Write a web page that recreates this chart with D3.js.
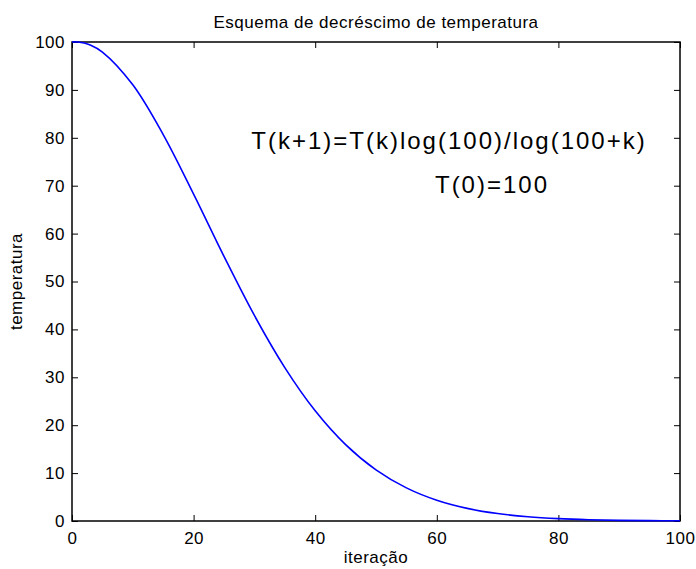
<!DOCTYPE html>
<html>
<head>
<meta charset="utf-8">
<title>Esquema de decréscimo de temperatura</title>
<script src="https://cdn.jsdelivr.net/npm/d3@7"></script>
<style>
  body { margin: 0; background: #fff; }
  text { font-family: "Liberation Sans", Arial, sans-serif; fill: #000; }
</style>
</head>
<body>
<script>
// iteração (k) e temperatura
var iteracoes = [0, 1, 2, 3, 5, 10, 15, 20, 25, 30, 35, 40, 45, 50, 55, 60, 65, 70, 75, 80, 85, 90, 95, 100];
var temperaturas = [100, 100, 99.78, 99.36, 97.91, 91.06, 80.66, 68.23, 55.24, 42.91, 32.03, 23.01, 15.95, 10.67, 6.91, 4.33, 2.63, 1.55, 0.89, 0.50, 0.27, 0.14, 0.07, 0.04];
var xTicks = [0, 20, 40, 60, 80, 100];
var yTicks = [0, 10, 20, 30, 40, 50, 60, 70, 80, 90, 100];

var width = 696, height = 569;
var margin = { top: 42, right: 16, bottom: 48, left: 72 };
var w = width - margin.left - margin.right;
var h = height - margin.top - margin.bottom;
var fs = '17px';

var svg = d3.select('body').append('svg')
    .attr('width', width)
    .attr('height', height);

var g = svg.append('g')
    .attr('transform', 'translate(' + margin.left + ',' + margin.top + ')');

var x = d3.scaleLinear().domain([0, 100]).range([0, w]);
var y = d3.scaleLinear().domain([0, 100]).range([h, 0]);

// eixos com marcas para dentro (estilo MATLAB)
function styleAxis(sel) {
    sel.select('.domain').remove();
    sel.selectAll('line').attr('stroke', '#000');
    sel.selectAll('text').attr('font-size', fs).attr('letter-spacing', '0.5px');
}

g.append('g')
    .attr('transform', 'translate(0,' + h + ')')
    .call(d3.axisBottom(x).tickValues(xTicks).tickSize(-6).tickPadding(11))
    .call(styleAxis);
g.append('g')
    .call(d3.axisTop(x).tickValues(xTicks).tickSize(-6).tickFormat(''))
    .call(styleAxis);
g.append('g')
    .call(d3.axisLeft(y).tickValues(yTicks).tickSize(-6).tickPadding(7))
    .call(styleAxis);
g.append('g')
    .attr('transform', 'translate(' + w + ',0)')
    .call(d3.axisRight(y).tickValues(yTicks).tickSize(-6).tickFormat(''))
    .call(styleAxis);

g.append('rect')
    .attr('width', w).attr('height', h)
    .attr('fill', 'none').attr('stroke', '#000').attr('stroke-width', 1.5);

var line = d3.line()
    .x(function(d, i) { return x(iteracoes[i]); })
    .y(function(d) { return y(d); })
    .curve(d3.curveCatmullRom);

g.append('path')
    .datum(temperaturas)
    .attr('d', line)
    .attr('fill', 'none')
    .attr('stroke', '#0000ff')
    .attr('stroke-width', 1.6);

// textos
svg.append('text')
    .attr('x', margin.left + w / 2).attr('y', 28)
    .attr('text-anchor', 'middle').attr('font-size', fs).attr('letter-spacing', '0.5px')
    .text('Esquema de decréscimo de temperatura');

svg.append('text')
    .attr('x', margin.left + w / 2).attr('y', 563)
    .attr('text-anchor', 'middle').attr('font-size', fs).attr('letter-spacing', '0.5px')
    .text('iteração');

svg.append('text')
    .attr('transform', 'translate(22,' + (margin.top + h / 2) + ') rotate(-90)')
    .attr('text-anchor', 'middle').attr('font-size', fs).attr('letter-spacing', '0.5px')
    .text('temperatura');

svg.append('text')
    .attr('x', 449).attr('y', 149)
    .attr('text-anchor', 'middle').attr('font-size', '24px').attr('letter-spacing', '2px')
    .text('T(k+1)=T(k)log(100)/log(100+k)');

svg.append('text')
    .attr('x', 492).attr('y', 193)
    .attr('text-anchor', 'middle').attr('font-size', '24px').attr('letter-spacing', '2px')
    .text('T(0)=100');
</script>
</body>
</html>
